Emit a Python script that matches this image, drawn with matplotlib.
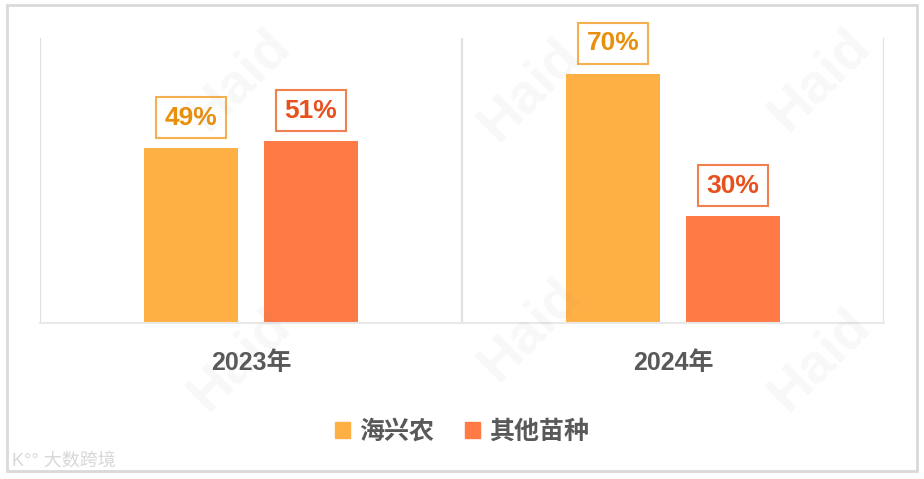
import matplotlib
matplotlib.use('Agg')
import matplotlib.pyplot as plt
from matplotlib.patches import Rectangle, Patch

# datos
anios = ['2023年', '2024年']
serie_nombres = ['海兴农', '其他苗种']
haixingnong = [49, 70]
otros = [51, 30]

color_barras = ['#FFB045', '#FF7A45']
color_texto = ['#E8900C', '#E8501C']
color_borde = ['#F5B050', '#F08050']
gris = '#595959'

plt.rcParams['font.family'] = ['Liberation Sans', 'Noto Sans CJK SC', 'DejaVu Sans']

fig = plt.figure(figsize=(9.24, 4.79), dpi=100)
fig.set_facecolor('white')

# marco exterior
fig.patches.append(Rectangle((7 / 924, 1 - 471 / 479), 910 / 924, 466 / 479,
                             transform=fig.transFigure, fill=False,
                             edgecolor='#d9d9d9', linewidth=2, zorder=0))

ax = fig.add_axes([40 / 924, 1 - 323 / 479, 844 / 924, 285 / 479])
ax.set_facecolor('none')

x = range(len(anios))
ancho = 94 / 422
offset = 59.75 / 422
series = [haixingnong, otros]
for i, vals in enumerate(series):
    pos = [xi + (i * 2 - 1) * offset for xi in x]
    ax.bar(pos, vals, width=ancho, color=color_barras[i], zorder=2,
           label=serie_nombres[i])
    for p, v in zip(pos, vals):
        ax.annotate(f'{v}%', (p, v), xytext=(0, 22), textcoords='offset points',
                    ha='center', va='center', fontsize=19, fontweight='bold',
                    color=color_texto[i], zorder=3,
                    bbox=dict(boxstyle='square,pad=0.32', fc='white',
                              ec=color_borde[i], lw=1.5))

ax.set_xlim(-0.5, 1.5)
ax.set_ylim(0, 80)
for sx in [-0.5, 0.5, 1.5]:
    ax.axvline(sx, color='#e0e0e0', lw=1.5, zorder=1)
for s in ['top', 'right', 'left']:
    ax.spines[s].set_visible(False)
ax.spines['bottom'].set_color('#e8e8e8')
ax.spines['bottom'].set_linewidth(1.5)
ax.set_yticks([])
ax.set_xticks(list(x))
ax.set_xticklabels(anios, fontsize=18, fontweight='bold', color=gris)
ax.tick_params(axis='x', length=0, pad=20)

handles = [Patch(color=c) for c in color_barras]
fig.legend(handles, serie_nombres, loc='center', bbox_to_anchor=(462 / 924, 1 - 432 / 479),
           ncol=2, frameon=False, prop={'size': 18, 'weight': 'bold'},
           handlelength=0.6, handleheight=0.6, handletextpad=0.4, columnspacing=1.2,
           labelcolor=gris)

# marcas de agua (muy tenues, encima de todo como en el original)
for (wx, wy) in [(240, 80), (530, 90), (820, 80), (240, 360), (530, 330), (820, 360)]:
    fig.text(wx / 924, 1 - wy / 479, 'Haid', fontsize=40, fontweight='bold',
             color='#808080', alpha=0.06, rotation=45, ha='center', va='center', zorder=10)
fig.text(12 / 924, 1 - 461 / 479, 'K°° 大数跨境', fontsize=13, color='#d8d8d8',
         ha='left', va='center', zorder=10)

plt.savefig('out.png', dpi=100, facecolor=fig.get_facecolor())
